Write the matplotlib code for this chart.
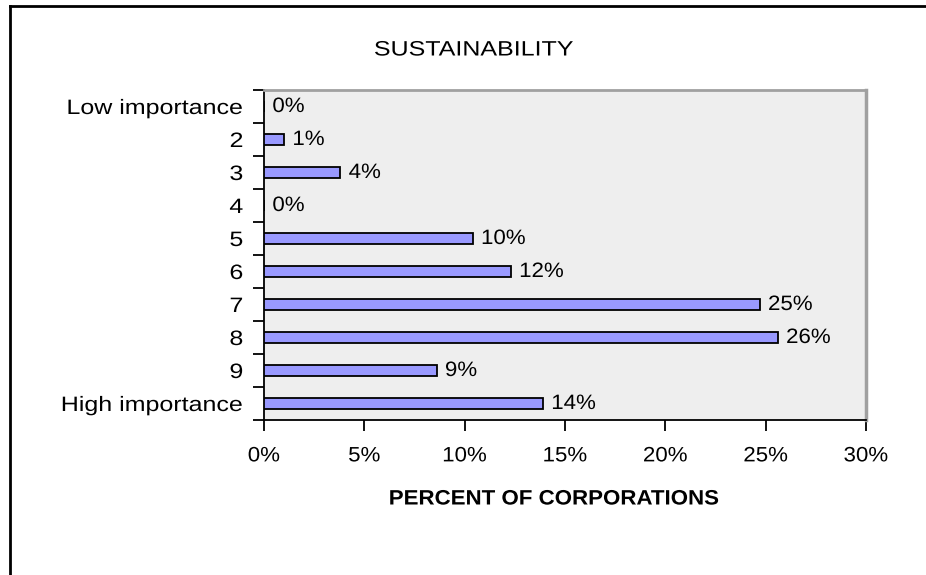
import matplotlib
matplotlib.use("Agg")
import matplotlib.pyplot as plt
from matplotlib.lines import Line2D
from matplotlib.ticker import FuncFormatter, FixedLocator
from matplotlib.patheffects import AbstractPathEffect
from matplotlib.transforms import Affine2D

categories = ["Low importance", "2", "3", "4", "5", "6", "7", "8", "9", "High importance"]
values = [0.0, 1.0, 3.8, 0.0, 10.4, 12.3, 24.7, 25.6, 8.6, 13.9]
x_ticks = [0, 5, 10, 15, 20, 25, 30]

plt.rcParams['font.family'] = ['Liberation Sans', 'DejaVu Sans']


class Stretch(AbstractPathEffect):
    """Widen text horizontally about an anchor (mimics the wide GDI rendering)."""

    def __init__(self, sx, anchor='center'):
        super().__init__()
        self.sx = sx
        self.anchor = anchor

    def draw_path(self, renderer, gc, tpath, affine, rgbFace=None):
        bb = tpath.get_extents(affine)
        if self.anchor == 'right':
            px = bb.x1
        elif self.anchor == 'left':
            px = bb.x0
        else:
            px = 0.5 * (bb.x0 + bb.x1)
        t = affine + Affine2D().translate(-px, 0).scale(self.sx, 1).translate(px, 0)
        renderer.draw_path(gc, tpath, t, rgbFace)


W, H = 926, 575
fig = plt.figure(figsize=(W / 100, H / 100), dpi=100)
fig.patch.set_facecolor('white')


def fx(px):
    return px / W


def fy(py):
    return 1 - py / H


FS = 15
left, right, top, bottom = 264, 866, 90, 420
ax = fig.add_axes([fx(left), fy(bottom), fx(right) - fx(left), fy(top) - fy(bottom)])
ax.set_facecolor('#EEEEEE')

n = len(categories)
ypos = list(range(n))
ax.barh(ypos, values, height=0.36, color='#9999FF', edgecolor='black', linewidth=1.3, zorder=3)
ax.set_ylim(n - 0.5, -0.5)
ax.set_xlim(0, 30)

for y, v in zip(ypos, values):
    ax.text(v + 0.42, y, f"{round(v):d}%", va='center', ha='left', fontsize=FS,
            path_effects=[Stretch(1.07, 'left')], zorder=4)

ax.set_yticks(ypos)
ax.set_yticklabels(categories, fontsize=FS)
ax.yaxis.set_minor_locator(FixedLocator([i - 0.5 for i in range(n + 1)]))
ax.tick_params(axis='y', which='major', length=0, pad=15)
ax.tick_params(axis='y', which='minor', length=8, width=1.3, color='black')

ax.xaxis.set_major_locator(FixedLocator(x_ticks))
ax.xaxis.set_major_formatter(FuncFormatter(lambda v, p: f"{int(v)}%"))
ax.tick_params(axis='x', which='major', length=8, width=1.3, pad=11, labelsize=FS)

ax.spines['left'].set_color('black')
ax.spines['bottom'].set_color('black')
ax.spines['left'].set_linewidth(1.3)
ax.spines['bottom'].set_linewidth(1.3)
ax.spines['top'].set_color('#A0A0A0')
ax.spines['right'].set_color('#A0A0A0')
ax.spines['top'].set_linewidth(2)
ax.spines['right'].set_linewidth(2.5)

xl = ax.set_xlabel("PERCENT OF CORPORATIONS", fontsize=FS, fontweight='bold', va='center')
ax.xaxis.set_label_coords((554 - left) / (right - left), (bottom - 499) / (bottom - top))
xl.set_path_effects([Stretch(1.07, 'center')])

fig.text(fx(474), fy(50), "SUSTAINABILITY", ha='center', va='center', fontsize=FS,
         path_effects=[Stretch(1.2, 'center')])

fig.add_artist(Line2D([fx(10), fx(10)], [fy(6), 0], transform=fig.transFigure, color='black', linewidth=2))
fig.add_artist(Line2D([fx(10), 1], [fy(6), fy(6)], transform=fig.transFigure, color='black', linewidth=2))

fig.canvas.draw()
for lbl in ax.get_yticklabels():
    lbl.set_path_effects([Stretch(1.2, 'right')])
for lbl in ax.get_xticklabels():
    lbl.set_path_effects([Stretch(1.07, 'center')])

fig.savefig("out.png", dpi=100)
